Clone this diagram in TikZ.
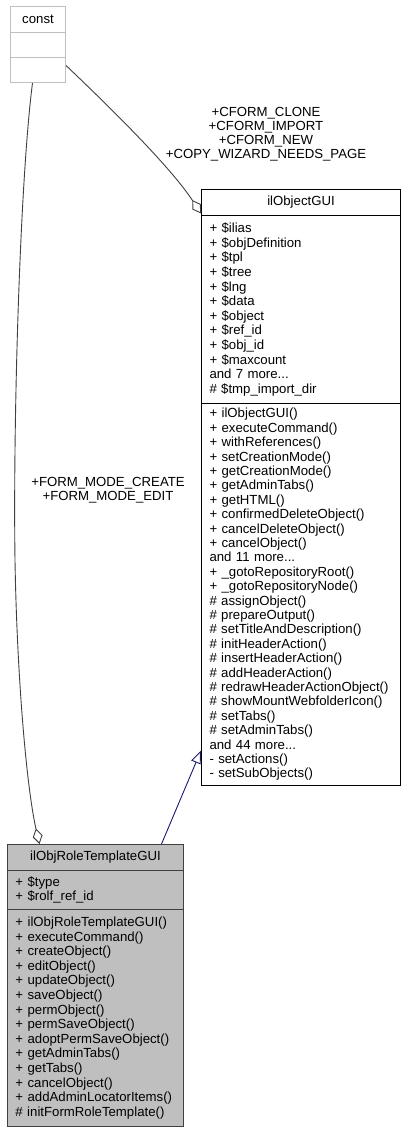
\documentclass[tikz,border=0pt]{standalone}
\usepackage{fontspec}
\setmainfont{Liberation Sans}
\usetikzlibrary{arrows.meta}
\definecolor{edgegrey}{HTML}{404040}
\definecolor{navyedge}{HTML}{191970}
\definecolor{lightborder}{HTML}{BFBFBF}
\definecolor{curfill}{HTML}{BFBFBF}
\begin{document}
\begin{tikzpicture}[x=1pt,y=-1pt,
  every node/.style={font=\fontsize{13.2}{14.6}\selectfont},
  sect/.style={rectangle, draw, line width=1pt, anchor=north west, inner ysep=0pt, inner xsep=8pt, align=left},
  titlesect/.style={sect, align=center},
  extcls/.style={draw=lightborder, fill=white},
  basecls/.style={draw=black, fill=white},
  curcls/.style={draw=edgegrey, fill=curfill},
  lbl/.style={align=center, inner sep=0pt, font=\fontsize{13.2}{14}\selectfont},
  aggr/.style={draw=edgegrey, line width=0.9pt, -{Diamond[open, length=16pt, width=10pt]}},
  inher/.style={draw=navyedge, line width=0.9pt, -{Triangle[open, length=13pt, width=10pt]}}
]
\useasboundingbox (0,0) rectangle (404,1132);

% const
\node[titlesect, extcls, minimum width=55pt, minimum height=26pt, text width=39pt] (cTitle) at (10,6) {const};
\node[sect, extcls, minimum width=55pt, minimum height=25pt, text width=39pt] (cAttr) at (10,32) {};
\node[sect, extcls, minimum width=55pt, minimum height=25pt, text width=39pt] (cMeth) at (10,57) {};

% ilObjectGUI
\node[titlesect, basecls, minimum width=199pt, minimum height=26pt, text width=183pt] (oTitle) at (201,189) {ilObjectGUI};
\node[sect, basecls, minimum width=199pt, minimum height=188pt, text width=183pt] (oAttr) at (201,215) {%
+ \$ilias\\
+ \$objDefinition\\
+ \$tpl\\
+ \$tree\\
+ \$lng\\
+ \$data\\
+ \$object\\
+ \$ref\_id\\
+ \$obj\_id\\
+ \$maxcount\\
and 7 more...\\
\# \$tmp\_import\_dir};
\node[sect, basecls, minimum width=199pt, minimum height=382pt, text width=183pt, font=\fontsize{13.2}{14.4}\selectfont] (oMeth) at (201,403) {%
+ ilObjectGUI()\\
+ executeCommand()\\
+ withReferences()\\
+ setCreationMode()\\
+ getCreationMode()\\
+ getAdminTabs()\\
+ getHTML()\\
+ confirmedDeleteObject()\\
+ cancelDeleteObject()\\
+ cancelObject()\\
and 11 more...\\
+ \_gotoRepositoryRoot()\\
+ \_gotoRepositoryNode()\\
\# assignObject()\\
\# prepareOutput()\\
\# setTitleAndDescription()\\
\# initHeaderAction()\\
\# insertHeaderAction()\\
\# addHeaderAction()\\
\# redrawHeaderActionObject()\\
\# showMountWebfolderIcon()\\
\# setTabs()\\
\# setAdminTabs()\\
and 44 more...\\
- setActions()\\
- setSubObjects()};

% ilObjRoleTemplateGUI
\node[titlesect, curcls, minimum width=176pt, minimum height=26pt, text width=160pt] (rTitle) at (7,844) {ilObjRoleTemplateGUI};
\node[sect, curcls, minimum width=176pt, minimum height=39pt, text width=160pt] (rAttr) at (7,870) {%
+ \$type\\
+ \$rolf\_ref\_id};
\node[sect, curcls, minimum width=176pt, minimum height=217pt, text width=160pt] (rMeth) at (7,909) {%
+ ilObjRoleTemplateGUI()\\
+ executeCommand()\\
+ createObject()\\
+ editObject()\\
+ updateObject()\\
+ saveObject()\\
+ permObject()\\
+ permSaveObject()\\
+ adoptPermSaveObject()\\
+ getAdminTabs()\\
+ getTabs()\\
+ cancelObject()\\
+ addAdminLocatorItems()\\
\# initFormRoleTemplate()};

% connectors
\draw[aggr] ([xshift=-5.5pt]cMeth.south) .. controls (20,180) and (13,420) .. (15,560)
  .. controls (17,680) and (27,790) .. ([xshift=-56pt]rTitle.north);
\draw[aggr] ([yshift=4.5pt]cMeth.east) .. controls (115,112) and (172,169) .. ([yshift=-11pt]oTitle.west);
\draw[inher] ([xshift=66pt]rTitle.north) -- ([yshift=-156pt]oMeth.west);

% labels
\node[lbl] (lblCform) at (266,134) {+CFORM\_CLONE\\+CFORM\_IMPORT\\+CFORM\_NEW\\+COPY\_WIZARD\_NEEDS\_PAGE};
\node[lbl] (lblForm) at (108,490) {+FORM\_MODE\_CREATE\\+FORM\_MODE\_EDIT};
\end{tikzpicture}
\end{document}
